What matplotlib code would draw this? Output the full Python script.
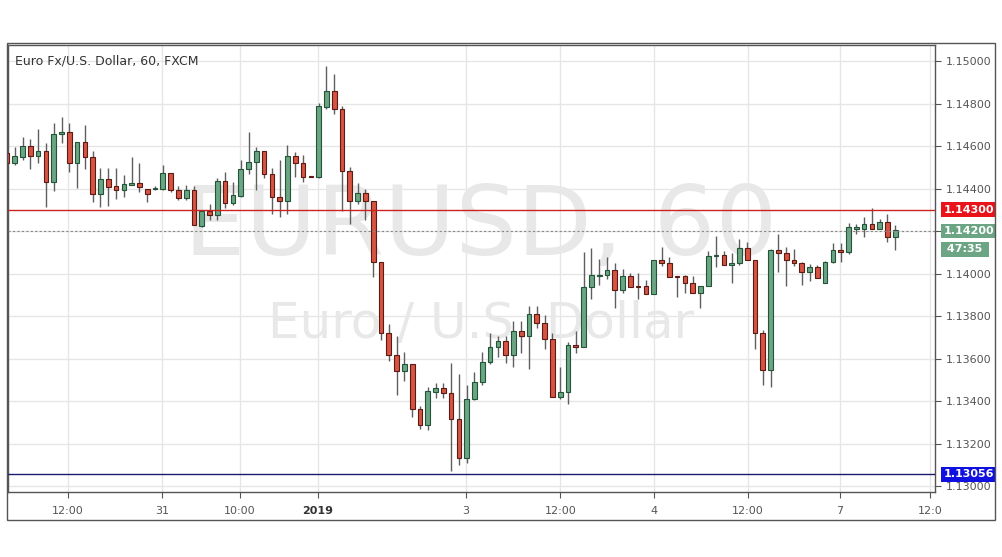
import matplotlib
matplotlib.use("Agg")
import matplotlib.pyplot as plt
from matplotlib.patches import Rectangle

opens = [114567,114520,114548,114600,114553,114576,114431,114656,114666,114520,114619,114548,114374,114445,114412,114393,114416,114426,114398,114398,
114398,114473,114393,114355,114393,114224,114294,114275,114435,114332,114365,114492,114525,114576,114468,114360,114341,114553,114520,114459,
114454,114784,114859,114774,114482,114341,114379,114341,114054,113720,113616,113541,113574,113362,113287,113442,113461,113438,113315,113132,
113409,113489,113584,113654,113682,113616,113729,113706,113809,113767,113692,113419,113442,113664,113654,113936,113988,113993,114016,113922,
113988,113941,113941,113903,114063,114049,113988,113988,113955,113908,113941,114082,114087,114040,114049,114120,114063,113720,113546,114111,
114096,114063,114049,114007,114031,113955,114054,114111,114101,114209,114209,114233,114209,114242,114172]
closes = [114520,114553,114600,114553,114576,114431,114656,114666,114520,114619,114548,114374,114445,114407,114393,114421,114426,114407,114374,114402,
114473,114393,114355,114393,114228,114294,114275,114435,114332,114369,114492,114525,114576,114468,114360,114341,114553,114520,114454,114454,
114788,114859,114774,114482,114341,114379,114341,114054,113720,113616,113541,113574,113362,113287,113447,113461,113438,113315,113132,113409,
113489,113584,113654,113682,113616,113729,113706,113809,113767,113692,113419,113442,113664,113654,113936,113993,113993,114016,113922,113988,
113936,113936,113903,114063,114049,113984,113984,113955,113908,113941,114082,114087,114040,114049,114120,114063,113720,113546,114111,114096,
114063,114049,114007,114031,113979,114054,114111,114101,114219,114219,114233,114209,114242,114172,114205]
highs = [114581,114595,114642,114633,114680,114614,114708,114736,114708,114619,114699,114576,114496,114496,114496,114464,114548,114520,114398,114412,
114511,114473,114412,114416,114412,114299,114327,114449,114478,114431,114534,114666,114595,114576,114496,114534,114605,114572,114558,114459,
114802,114976,114939,114788,114501,114426,114398,114341,114054,113762,113706,113631,113574,113376,113466,113485,113485,113579,113527,113475,
113536,113631,113720,113706,113706,113776,113776,113847,113847,113805,113720,113560,113678,113729,114101,114120,114068,114078,114049,114021,
114002,114002,113969,114063,114125,114078,113988,113993,113988,113941,114106,114176,114106,114096,114162,114148,114063,113734,114115,114186,
114125,114115,114054,114045,114040,114059,114144,114144,114238,114233,114266,114308,114256,114280,114228]
lows = [114511,114511,114534,114492,114520,114313,114388,114614,114478,114402,114492,114336,114313,114318,114351,114360,114416,114384,114336,114393,
114393,114384,114346,114346,114228,114219,114252,114252,114308,114322,114360,114468,114393,114449,114280,114266,114280,114454,114431,114454,
114449,114774,114751,114294,114233,114327,114252,113984,113687,113588,113428,113494,113325,113268,113263,113414,113414,113071,113099,113108,
113405,113475,113574,113607,113579,113560,113626,113551,113744,113645,113419,113409,113386,113626,113654,113880,113946,113974,113838,113908,
113936,113880,113903,113903,114035,113984,113889,113908,113908,113838,113941,114031,114040,113955,114040,114063,113645,113475,113466,114007,
113941,114035,113946,113965,113979,113955,114049,114054,114092,114186,114172,114209,114209,114148,114111]

tick_pos = [7.83, 19.9, 29.9, 39.9, 58.9, 71.0, 83.1, 95.1, 106.9, 118.5]
tick_labels = ["12:00", "31", "10:00", "2019", "3", "12:00", "4", "12:00", "7", "12:0"]
price_ticks = [1.130, 1.132, 1.134, 1.136, 1.138, 1.140, 1.142, 1.144, 1.146, 1.148, 1.150]
resistance = 1.14300
current = 1.14200
support = 1.13056

fig = plt.figure(figsize=(10.02, 5.57), dpi=100)
fig.patch.set_facecolor("white")
W, H = 1002, 557
ax = fig.add_axes([8/W, (557-492)/H, (935-8)/W, (492-45)/H])
ax.set_xlim(0.13, 119.1)
ax.set_ylim(1.129718, 1.150753)

GREEN, GEDGE = "#6ba583", "#225437"
RED, REDGE = "#d75442", "#5b1a13"
for i in range(len(opens)):
    o, c, h, l = opens[i]/1e5, closes[i]/1e5, highs[i]/1e5, lows[i]/1e5
    up = c >= o
    ax.vlines(i, l, h, color="#5f5f5f", lw=1, zorder=3)
    b0, bh = min(o, c), abs(c - o)
    if bh < 0.00003:
        bh = 0.00003
        b0 = (o + c)/2 - bh/2
    ax.add_patch(Rectangle((i-0.3, b0), 0.6, bh, facecolor=GREEN if up else RED,
                           edgecolor=GEDGE if up else REDGE, lw=0.8, zorder=4))

for x in tick_pos:
    ax.axvline(x, color="#e6e6e6", lw=1, zorder=0)
for p in price_ticks:
    ax.axhline(p, color="#e6e6e6", lw=1, zorder=0)

ax.axhline(resistance, color="#cc2222", lw=1, zorder=5)
ax.axhline(current, color="#888888", lw=0.8, ls=(0, (2, 2)), zorder=5)
ax.axhline(support, color="#1a1a6e", lw=1, zorder=5)

ax.text(0.51, 0.59, "EURUSD, 60", transform=ax.transAxes, ha="center", va="center",
        fontsize=70, color="#e8e8e8", zorder=1)
ax.text(0.51, 0.375, "Euro / U.S. Dollar", transform=ax.transAxes, ha="center", va="center",
        fontsize=36, color="#e8e8e8", zorder=1)
ax.text(0.008, 0.965, "Euro Fx/U.S. Dollar, 60, FXCM", transform=ax.transAxes, ha="left", va="center",
        fontsize=9, color="#333333", fontweight="medium")

ax.yaxis.tick_right()
ax.set_yticks(price_ticks)
ax.set_yticklabels(["" if abs(p - current) < 1e-9 else f"{p:.5f}" for p in price_ticks])
ax.tick_params(axis="y", labelsize=8, colors="#555555", length=4, direction="out", pad=4)
ax.set_xticks(tick_pos)
ax.set_xticklabels(tick_labels)
ax.tick_params(axis="x", labelsize=8, colors="#555555", length=4, pad=6)
for lab in ax.get_xticklabels():
    if lab.get_text() == "2019":
        lab.set_fontweight("bold")
        lab.set_color("#333333")
for s in ax.spines.values():
    s.set_color("#555555")
    s.set_linewidth(1)

def tag(y, text, color, dy=0):
    ax.annotate(text, xy=(1.0, y), xycoords=("axes fraction", "data"), xytext=(6, dy),
                textcoords="offset points", ha="left", va="center", fontsize=8,
                color="white", fontweight="bold",
                bbox=dict(boxstyle="square,pad=0.22", fc=color, ec="none"), zorder=10)
tag(resistance, "1.14300", "#e8141a")
tag(current, "1.14200", "#6ba583")
tag(current, " 47:35 ", "#6ba583", dy=-13)
tag(support, "1.13056", "#1010e0")

fig.add_artist(Rectangle((7/W, (557-520)/H), (995-7)/W, (520-43)/H, transform=fig.transFigure,
                         fill=False, ec="#555555", lw=1))
fig.savefig("out.png", dpi=100)
